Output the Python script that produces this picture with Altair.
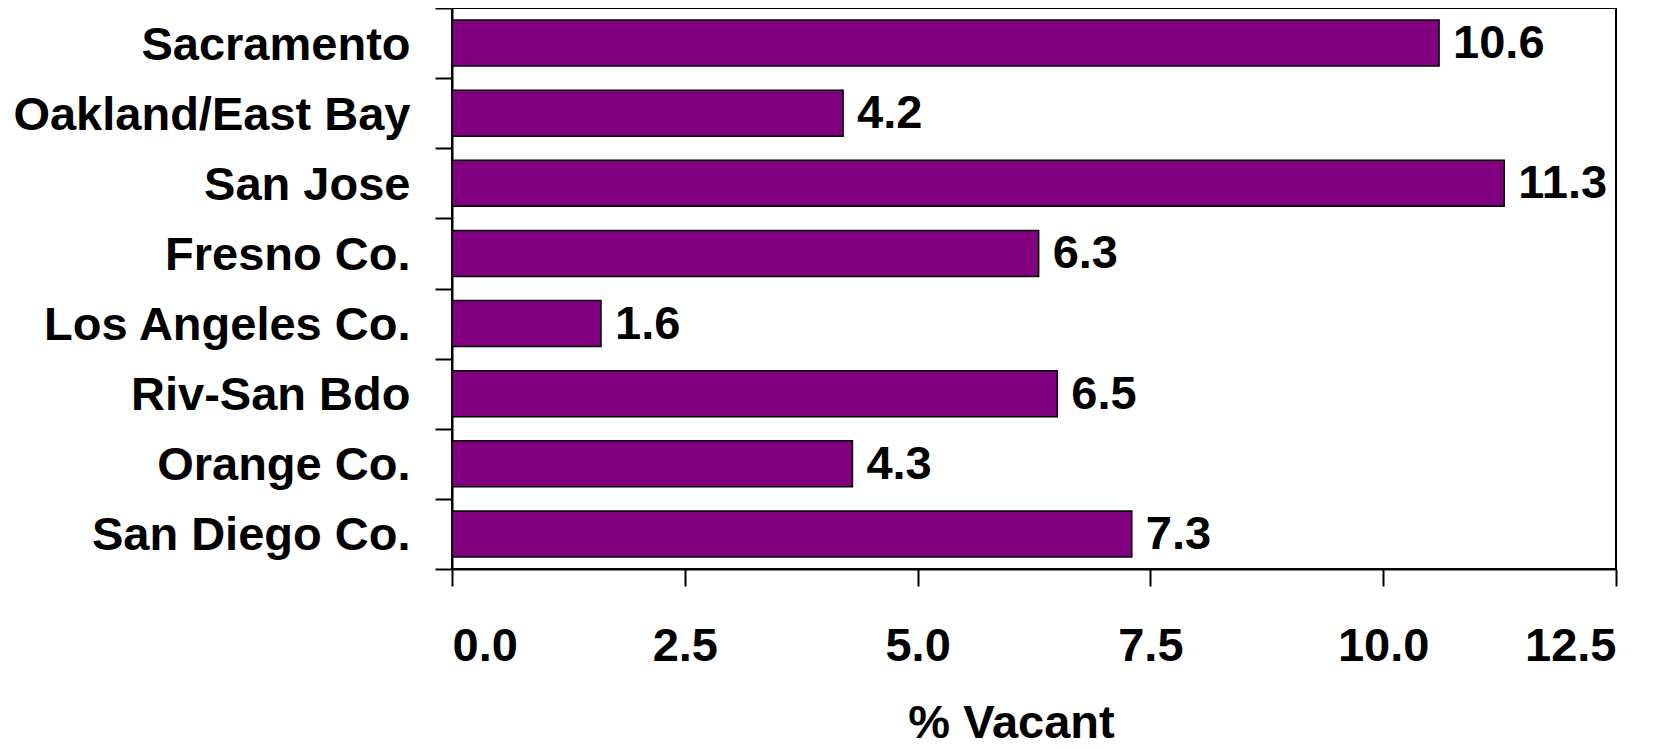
import altair as alt
import pandas as pd

regions = ["Sacramento", "Oakland/East Bay", "San Jose", "Fresno Co.",
           "Los Angeles Co.", "Riv-San Bdo", "Orange Co.", "San Diego Co."]
vacancy = [10.6, 4.2, 11.3, 6.3, 1.6, 6.5, 4.3, 7.3]
x_ticks = [0, 2.5, 5, 7.5, 10, 12.5]

df = pd.DataFrame({"region": regions, "vacant": vacancy})
FONT = "Liberation Sans"
FS = 47

y_enc = alt.Y(
    "region:N", sort=regions, title=None,
    scale=alt.Scale(paddingInner=0, paddingOuter=0),
    axis=alt.Axis(
        tickBand="extent", labelFont=FONT, labelFontSize=FS, labelFontWeight="bold",
        labelColor="black", labelPadding=25, tickSize=17, tickWidth=2, tickColor="black",
        domainColor="black", domainWidth=2, labelBaseline="alphabetic", labelOffset=16,
        labelLimit=0,
    ),
)
x_enc = alt.X(
    "vacant:Q", scale=alt.Scale(domain=[0, 12.5], nice=False),
    axis=alt.Axis(
        values=x_ticks, format=".1f", title="% Vacant",
        labelFont=FONT, labelFontSize=FS, labelFontWeight="bold", labelColor="black",
        labelBaseline="alphabetic", labelPadding=74, tickSize=17, tickWidth=2,
        tickColor="black", domainColor="black", domainWidth=2,
        titleFont=FONT, titleFontSize=FS, titleFontWeight="bold", titleColor="black",
        titleBaseline="alphabetic", titleX=559, titleY=168, titleAlign="center",
    ),
)

bars = alt.Chart(df).mark_bar(
    color="#800080", stroke="black", strokeWidth=1.5, height=46
).encode(x=x_enc, y=y_enc)

labels = alt.Chart(df).mark_text(
    align="left", baseline="alphabetic", dx=14, dy=15, font=FONT, fontSize=FS,
    fontWeight="bold", color="black"
).encode(
    x="vacant:Q",
    y=alt.Y("region:N", sort=regions),
    text=alt.Text("vacant:Q", format=".1f"),
)

chart = (bars + labels).properties(
    width=1164, height=561,
    autosize=alt.AutoSizeParams(type="none"),
    padding={"left": 444, "top": 0, "right": 48, "bottom": 180},
).configure_view(stroke="black", strokeWidth=2).configure_axis(grid=False)

chart.save("out.html", embed_options={"renderer": "svg", "actions": False})
